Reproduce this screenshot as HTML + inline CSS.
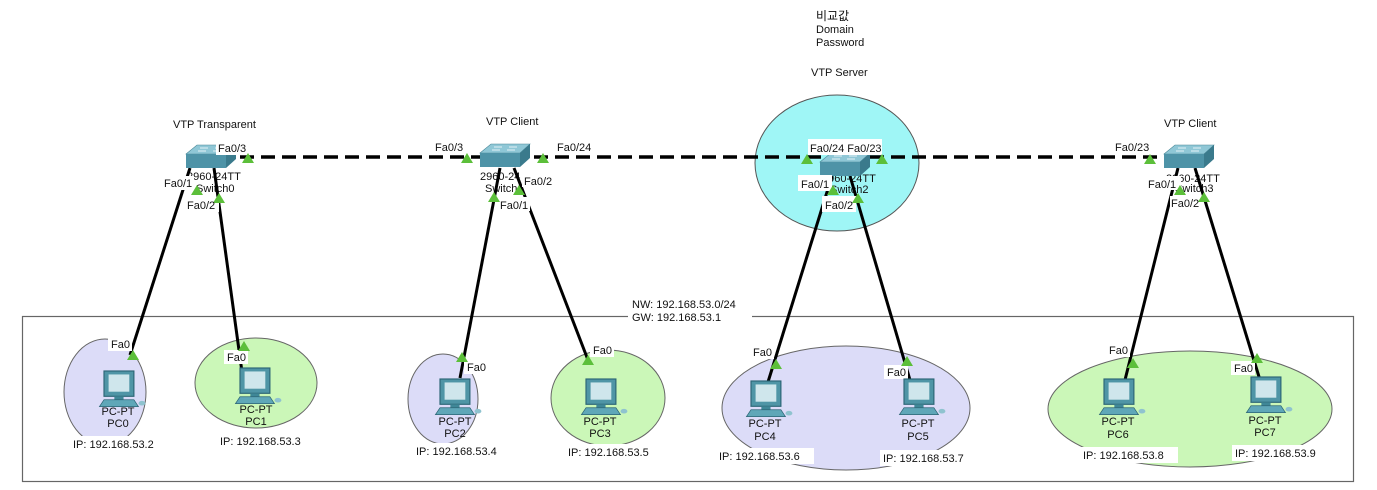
<!DOCTYPE html>
<html><head><meta charset="utf-8"><style>
body{margin:0;background:#fff;}
svg{display:block;font-family:"Liberation Sans","Noto Sans CJK KR",sans-serif;font-size:11px;}
.lb{fill:#fff;}
</style></head><body>
<svg width="1377" height="490" viewBox="0 0 1377 490" xmlns="http://www.w3.org/2000/svg">
<defs>
<g id="pc">
<rect x="0" y="0" width="26" height="22" fill="#4f95a6" stroke="#2c6575"/>
<rect x="4" y="3" width="18" height="15" fill="#cfe6ec"/>
<rect x="9" y="22" width="8" height="3" fill="#3f8797"/>
<polygon points="-4,31 30,31 26,25 0,25" fill="#5fa7b8" stroke="#2c6575" stroke-width="0.6"/>
<ellipse cx="33" cy="28" rx="3" ry="2" fill="#8fc3cf"/>
</g>
<g id="sw">
<polygon points="0,9 11,0 50,0 40,9" fill="#8fc7d6" stroke="#4a8898" stroke-width="0.6"/>
<polygon points="0,9 40,9 40,23 0,23" fill="#4e93a7"/>
<polygon points="40,9 50,0 50,14 40,23" fill="#3a7a8c"/>
<path d="M14,3 h8 M29,3 h8 M12,6 h8 M27,6 h8" stroke="#fff" stroke-width="0.8"/>
</g>
<polygon id="tri" points="-6,5 6,5 0,-5" fill="#5cbf3a"/>
</defs>

<ellipse cx="837" cy="163" rx="82" ry="68" fill="#9ff6f6" stroke="#555" stroke-width="1"/>
<rect x="22.5" y="316.5" width="1331" height="165" fill="none" stroke="#666" stroke-width="1.2"/>

<ellipse cx="105" cy="392" rx="41" ry="53" fill="#dcdcf8" stroke="#666"/>
<ellipse cx="256" cy="383" rx="61" ry="45" fill="#cbf7b8" stroke="#666"/>
<ellipse cx="443" cy="399" rx="35" ry="45" fill="#dcdcf8" stroke="#666"/>
<ellipse cx="608" cy="398" rx="57" ry="48" fill="#cbf7b8" stroke="#666"/>
<ellipse cx="846" cy="408" rx="124" ry="62" fill="#dcdcf8" stroke="#666"/>
<ellipse cx="1190" cy="409" rx="142" ry="58" fill="#cbf7b8" stroke="#666"/>

<line x1="240" y1="157" x2="1160" y2="157" stroke="#000" stroke-width="3.5" stroke-dasharray="14,7"/>

<g fill="#111">
<text x="187" y="180">2960-24TT</text>
<text x="196" y="192">Switch0</text>
<text x="480" y="180">2960-24</text>
<text x="485" y="192">Switch1</text>
<text x="822" y="182">2960-24TT</text>
<text x="830" y="193">Switch2</text>
<text x="1166" y="182">2960-24TT</text>
<text x="1175" y="192">Switch3</text>
</g>

<g stroke="#000" stroke-width="3">
<line x1="190" y1="168" x2="130" y2="355"/>
<line x1="214" y1="168" x2="242" y2="372"/>
<line x1="500" y1="168" x2="460" y2="378"/>
<line x1="514" y1="168" x2="588" y2="360"/>
<line x1="832" y1="176" x2="768" y2="382"/>
<line x1="850" y1="176" x2="910" y2="380"/>
<line x1="1178" y1="168" x2="1125" y2="380"/>
<line x1="1195" y1="168" x2="1260" y2="380"/>
</g>

<use href="#sw" x="186" y="145"/>
<use href="#sw" x="480" y="144"/>
<use href="#sw" x="820" y="153"/>
<use href="#sw" x="1164" y="145"/>

<g class="lb">
<rect x="168" y="116" width="92" height="16"/>
<rect x="482" y="113" width="58" height="16"/>
<rect x="807" y="64" width="66" height="16"/>
<rect x="811" y="6" width="60" height="46"/>
<rect x="1160" y="115" width="58" height="16"/>
<rect x="628" y="296" width="124" height="28"/>
<rect x="216" y="141" width="32" height="14"/>
<rect x="432" y="139" width="34" height="14"/>
<rect x="555" y="139" width="30" height="14"/>
<rect x="808" y="139" width="74" height="16"/>
<rect x="1113" y="139" width="36" height="14"/>
<rect x="160" y="176" width="34" height="14"/>
<rect x="185" y="198" width="34" height="14"/>
<rect x="522" y="173" width="32" height="14"/>
<rect x="498" y="197" width="32" height="14"/>
<rect x="798" y="175" width="34" height="16"/>
<rect x="822" y="196" width="34" height="16"/>
<rect x="1147" y="176" width="34" height="14"/>
<rect x="1170" y="196" width="32" height="14"/>
<rect x="108" y="337" width="24" height="14"/>
<rect x="224" y="350" width="24" height="14"/>
<rect x="464" y="360" width="24" height="14"/>
<rect x="590" y="343" width="24" height="14"/>
<rect x="750" y="345" width="24" height="14"/>
<rect x="884" y="365" width="24" height="14"/>
<rect x="1106" y="343" width="24" height="14"/>
<rect x="1231" y="361" width="24" height="14"/>
<rect x="70" y="436" width="98" height="16"/>
<rect x="217" y="433" width="98" height="16"/>
<rect x="413" y="443" width="98" height="16"/>
<rect x="565" y="444" width="98" height="16"/>
<rect x="716" y="448" width="98" height="16"/>
<rect x="880" y="450" width="98" height="16"/>
<rect x="1080" y="447" width="98" height="16"/>
<rect x="1232" y="445" width="98" height="16"/>
</g>

<use href="#tri" x="248" y="158"/>
<use href="#tri" x="467" y="158"/>
<use href="#tri" x="543" y="158"/>
<use href="#tri" x="807" y="159"/>
<use href="#tri" x="882" y="159"/>
<use href="#tri" x="1150" y="159"/>
<use href="#tri" x="197" y="190"/>
<use href="#tri" x="219" y="198"/>
<use href="#tri" x="494" y="197"/>
<use href="#tri" x="519" y="190"/>
<use href="#tri" x="833" y="190"/>
<use href="#tri" x="858" y="198"/>
<use href="#tri" x="1180" y="190"/>
<use href="#tri" x="1204" y="197"/>
<use href="#tri" x="133" y="355"/>
<use href="#tri" x="244" y="346"/>
<use href="#tri" x="462" y="357"/>
<use href="#tri" x="588" y="360"/>
<use href="#tri" x="776" y="364"/>
<use href="#tri" x="907" y="361"/>
<use href="#tri" x="1133" y="363"/>
<use href="#tri" x="1257" y="358"/>

<use href="#pc" transform="translate(104,371) scale(1.15)"/>
<use href="#pc" transform="translate(240,368) scale(1.15)"/>
<use href="#pc" transform="translate(440,379) scale(1.15)"/>
<use href="#pc" transform="translate(586,379) scale(1.15)"/>
<use href="#pc" transform="translate(751,381) scale(1.15)"/>
<use href="#pc" transform="translate(904,379) scale(1.15)"/>
<use href="#pc" transform="translate(1104,379) scale(1.15)"/>
<use href="#pc" transform="translate(1251,377) scale(1.15)"/>

<g fill="#111">
<text x="173" y="128">VTP Transparent</text>
<text x="486" y="125">VTP Client</text>
<text x="811" y="76">VTP Server</text>
<text x="816" y="20" font-size="12">비교값</text>
<text x="816" y="33">Domain</text>
<text x="816" y="46">Password</text>
<text x="1164" y="127">VTP Client</text>
<text x="632" y="308">NW: 192.168.53.0/24</text>
<text x="632" y="321">GW: 192.168.53.1</text>

<text x="218" y="152">Fa0/3</text>
<text x="435" y="151">Fa0/3</text>
<text x="557" y="151">Fa0/24</text>
<text x="810" y="152">Fa0/24 Fa0/23</text>
<text x="1115" y="151">Fa0/23</text>
<text x="164" y="187">Fa0/1</text>
<text x="187" y="209">Fa0/2</text>
<text x="524" y="185">Fa0/2</text>
<text x="500" y="209">Fa0/1</text>
<text x="801" y="188">Fa0/1</text>
<text x="825" y="209">Fa0/2</text>
<text x="1148" y="188">Fa0/1</text>
<text x="1171" y="207">Fa0/2</text>

<text x="111" y="348">Fa0</text>
<text x="227" y="361">Fa0</text>
<text x="467" y="371">Fa0</text>
<text x="593" y="354">Fa0</text>
<text x="753" y="356">Fa0</text>
<text x="887" y="376">Fa0</text>
<text x="1109" y="354">Fa0</text>
<text x="1234" y="372">Fa0</text>

<g text-anchor="middle">
<text x="118" y="415">PC-PT</text><text x="118" y="427">PC0</text>
<text x="256" y="413">PC-PT</text><text x="256" y="425">PC1</text>
<text x="455" y="425">PC-PT</text><text x="455" y="437">PC2</text>
<text x="600" y="425">PC-PT</text><text x="600" y="437">PC3</text>
<text x="765" y="427">PC-PT</text><text x="765" y="440">PC4</text>
<text x="918" y="427">PC-PT</text><text x="918" y="440">PC5</text>
<text x="1118" y="425">PC-PT</text><text x="1118" y="438">PC6</text>
<text x="1265" y="424">PC-PT</text><text x="1265" y="436">PC7</text>
</g>
<text x="73" y="448">IP: 192.168.53.2</text>
<text x="220" y="445">IP: 192.168.53.3</text>
<text x="416" y="455">IP: 192.168.53.4</text>
<text x="568" y="456">IP: 192.168.53.5</text>
<text x="719" y="460">IP: 192.168.53.6</text>
<text x="883" y="462">IP: 192.168.53.7</text>
<text x="1083" y="459">IP: 192.168.53.8</text>
<text x="1235" y="457">IP: 192.168.53.9</text>
</g>
</svg>
</body></html>
